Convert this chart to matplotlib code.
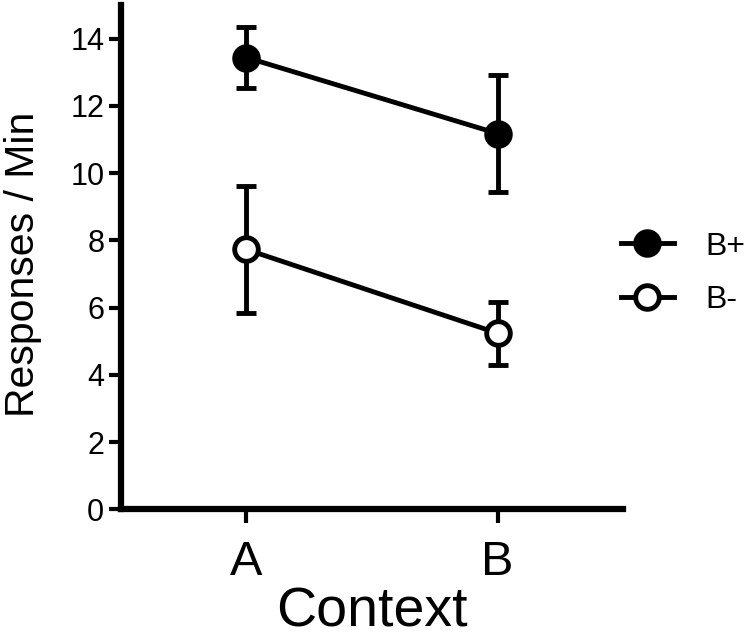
import numpy as np
import matplotlib.pyplot as plt

plt.rcParams["font.family"] = ["Liberation Sans", "DejaVu Sans"]

contexts = ["A", "B"]
bplus_mean = [13.44, 11.18]
bplus_err = [0.91, 1.75]
bminus_mean = [7.73, 5.24]
bminus_err = [1.89, 0.94]

x = np.arange(len(contexts))

fig = plt.figure(figsize=(7.5, 6.39), dpi=100)
ax = fig.add_axes([0.1613, 0.203, 0.8307 - 0.1613, 0.992 - 0.203])

lw = 3.5
ax.errorbar(x, bplus_mean, yerr=bplus_err, fmt="-o", color="black", lw=lw,
            elinewidth=lw, capsize=7.5, capthick=lw, markersize=17,
            mfc="black", mec="black", mew=lw, label="B+", zorder=3)
ax.errorbar(x, bminus_mean, yerr=bminus_err, fmt="-o", color="black", lw=lw,
            elinewidth=lw, capsize=7.5, capthick=lw, markersize=17,
            mfc="white", mec="black", mew=lw, label="B-", zorder=3)

ax.set_xlim(-0.5, 1.5)
ax.set_ylim(0, 15)
ax.set_xticks(x)
ax.set_xticklabels(contexts, fontsize=35)
ax.set_yticks(np.arange(0, 15, 2))
ax.tick_params(axis="y", labelsize=22, width=3, length=9, pad=3)
ax.tick_params(axis="x", width=3, length=10, pad=12)
for side in ["top", "right"]:
    ax.spines[side].set_visible(False)
for side in ["left", "bottom"]:
    ax.spines[side].set_linewidth(4.5)

ax.set_xlabel("Context", fontsize=40, labelpad=1)
ax.set_ylabel("Responses / Min", fontsize=29.5, labelpad=20)
ax.yaxis.label.set_y(0.485)

handles, labels = ax.get_legend_handles_labels()
handles = [h[0] for h in handles]
fig.legend(handles, labels, loc="center left", bbox_to_anchor=(621 / 750, 0.572),
           frameon=False, fontsize=23, borderpad=0, borderaxespad=0,
           handlelength=1.65, handletextpad=1.0, labelspacing=0.75)

fig.savefig("out.png", dpi=100)
